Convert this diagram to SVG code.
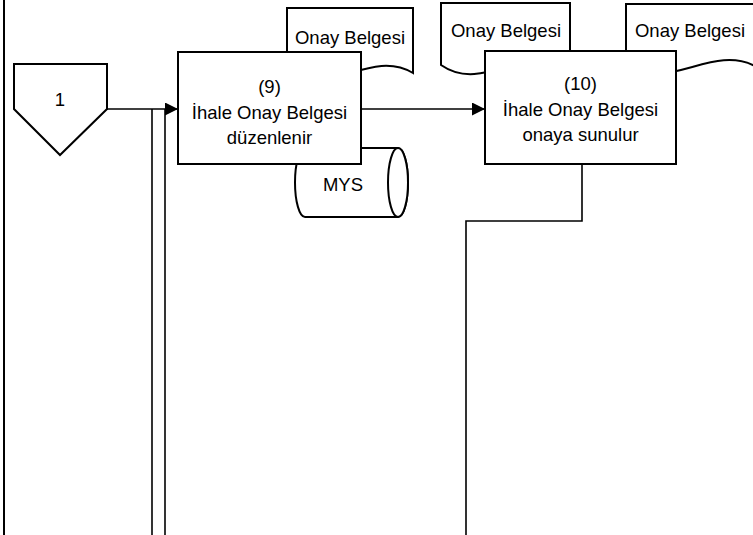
<svg xmlns="http://www.w3.org/2000/svg" width="753" height="535" viewBox="0 0 753 535">
<defs>
<style>
.s{fill:#fff;stroke:#000;stroke-width:2}
.c{fill:none;stroke:#000;stroke-width:1.6}
.t{font-family:"Liberation Sans",Arial,sans-serif;font-size:18.5px;fill:#000;text-anchor:middle}
</style>
<marker id="ah" viewBox="0 0 10 10" refX="10" refY="5" markerWidth="13" markerHeight="13" markerUnits="userSpaceOnUse" orient="auto">
<path d="M0,0 L10,5 L0,10 z" fill="#000"/>
</marker>
</defs>
<rect width="753" height="535" fill="#fff"/>
<line x1="4" y1="0" x2="4" y2="535" stroke="#000" stroke-width="2"/>
<g id="connectors">
<path class="c" d="M107,109 L178,109" marker-end="url(#ah)"/>
<path class="c" d="M152,109 L152,535"/>
<path class="c" d="M165,535 L165,109"/>
<path class="c" d="M361,109 L485,109" marker-end="url(#ah)"/>
<path class="c" d="M582,164 L582,221 L466,221 L466,535"/>
</g>
<g id="offpage1">
<path class="s" d="M14,64 L107,64 L107,109 L60,155 L14,109 Z"/>
<text class="t" x="60" y="106">1</text>
</g>
<g id="doc1">
<path class="s" d="M287,8 L413,8 L413,73 C371,48 329,98 287,73 Z"/>
<text class="t" x="350" y="44">Onay Belgesi</text>
</g>
<g id="mys">
<path class="s" d="M398,148 L305,148 A10,34.5 0 0 0 305,217 L398,217 A10,34.5 0 0 0 398,148 Z"/>
<ellipse class="s" cx="398" cy="182.5" rx="10" ry="34.5"/>
<text class="t" x="343" y="191">MYS</text>
</g>
<g id="box9">
<rect class="s" x="178" y="52" width="183" height="112"/>
<text class="t" x="269.5" y="93">(9)</text>
<text class="t" x="269.5" y="119">İhale Onay Belgesi</text>
<text class="t" x="269.5" y="144">düzenlenir</text>
</g>
<g id="doc2">
<path class="s" d="M441,3 L570,3 L570,65 C527,40 484,95 441,65 Z"/>
<text class="t" x="506" y="37">Onay Belgesi</text>
</g>
<g id="doc3">
<path class="s" d="M626,4 L755,4 L755,66 C712,44 669,92 626,66 Z"/>
<text class="t" x="690" y="37">Onay Belgesi</text>
</g>
<g id="box10">
<rect class="s" x="485" y="51" width="191" height="113"/>
<text class="t" x="580.5" y="90">(10)</text>
<text class="t" x="580.5" y="116">İhale Onay Belgesi</text>
<text class="t" x="580.5" y="141">onaya sunulur</text>
</g>
</svg>
